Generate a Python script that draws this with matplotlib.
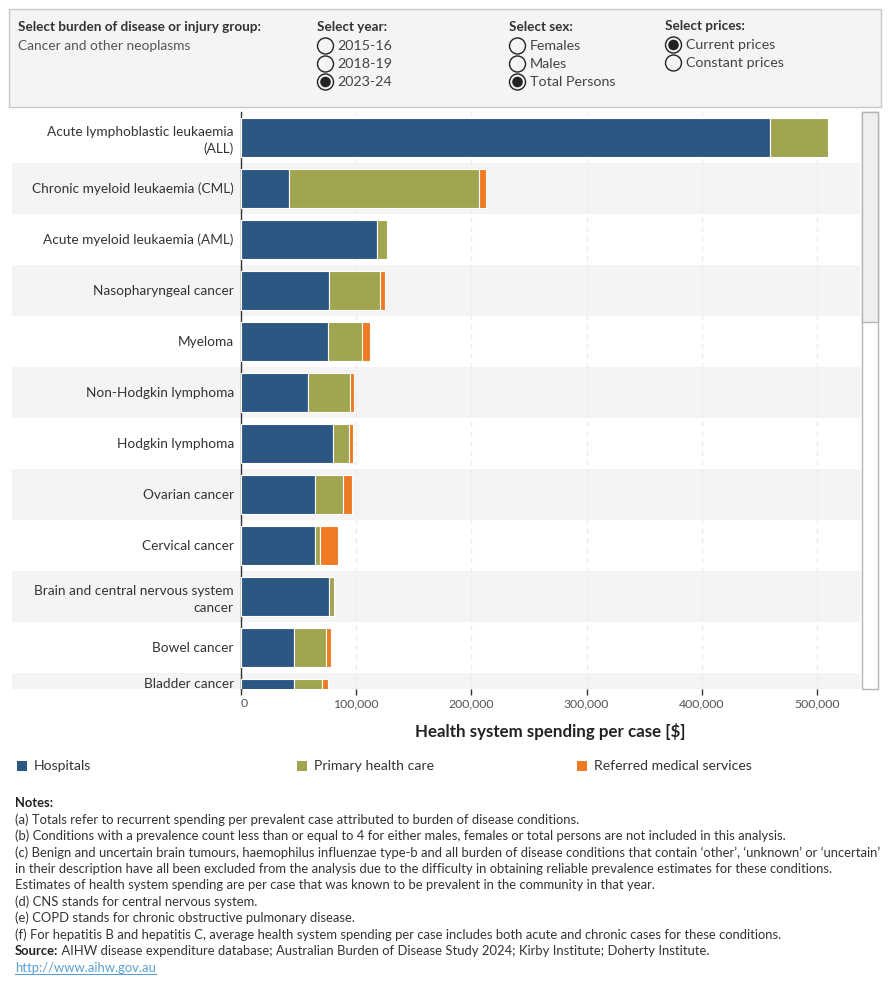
import matplotlib
matplotlib.use("Agg")
import matplotlib.pyplot as plt
from matplotlib.patches import Rectangle, Circle
from matplotlib.transforms import blended_transform_factory

plt.rcParams['font.family'] = ['Lato', 'DejaVu Sans']

# ---------------- data ----------------
categories = [
    "Acute lymphoblastic leukaemia\n(ALL)",
    "Chronic myeloid leukaemia (CML)",
    "Acute myeloid leukaemia (AML)",
    "Nasopharyngeal cancer",
    "Myeloma",
    "Non-Hodgkin lymphoma",
    "Hodgkin lymphoma",
    "Ovarian cancer",
    "Cervical cancer",
    "Brain and central nervous system\ncancer",
    "Bowel cancer",
    "Bladder cancer",
]
hospitals = [459000, 42000, 118000, 76500, 75800, 58700, 80100, 64500, 64500, 76500, 46300, 46300]
primary = [50300, 165000, 8800, 44100, 29500, 36000, 13900, 24000, 4400, 4700, 28000, 24700]
referred = [0, 5500, 0, 4400, 6900, 3700, 3300, 8000, 15600, 0, 4000, 4800]

series_names = ["Hospitals", "Primary health care", "Referred medical services"]
series_colors = ["#2c5783", "#a1a54f", "#ef7a24"]

x_ticks = [0, 100000, 200000, 300000, 400000, 500000]
x_max = 537000
x_title = "Health system spending per case [$]"

group_title = "Select burden of disease or injury group:"
group_value = "Cancer and other neoplasms"
year_title = "Select year:"
years = ["2015-16", "2018-19", "2023-24"]
year_sel = "2023-24"
sex_title = "Select sex:"
sexes = ["Females", "Males", "Total Persons"]
sex_sel = "Total Persons"
price_title = "Select prices:"
prices = ["Current prices", "Constant prices"]
price_sel = "Current prices"

notes = [
    "(a) Totals refer to recurrent spending per prevalent case attributed to burden of disease conditions.",
    "(b) Conditions with a prevalence count less than or equal to 4 for either males, females or total persons are not included in this analysis.",
    "(c) Benign and uncertain brain tumours, haemophilus influenzae type-b and all burden of disease conditions that contain \u2018other\u2019, \u2018unknown\u2019 or \u2018uncertain\u2019",
    "in their description have all been excluded from the analysis due to the difficulty in obtaining reliable prevalence estimates for these conditions.",
    "Estimates of health system spending are per case that was known to be prevalent in the community in that year.",
    "(d) CNS stands for central nervous system.",
    "(e) COPD stands for chronic obstructive pulmonary disease.",
    "(f) For hepatitis B and hepatitis C, average health system spending per case includes both acute and chronic cases for these conditions.",
]
source_label = "Source:"
source_text = " AIHW disease expenditure database; Australian Burden of Disease Study 2024; Kirby Institute; Doherty Institute."
link_text = "http://www.aihw.gov.au"

# ---------------- layout ----------------
W, H = 890, 1000
fig = plt.figure(figsize=(W / 100, H / 100), dpi=100)
fig.patch.set_facecolor("white")

bg = fig.add_axes([0, 0, 1, 1])
bg.set_xlim(0, W)
bg.set_ylim(H, 0)
bg.axis("off")
bg.set_zorder(0)

TXT = "#333333"
NOTE_FS = 9.35

# top filter panel
bg.add_patch(Rectangle((8.5, 8.5), 872, 98.5, facecolor="#f4f4f4", edgecolor="#c8c8c8", lw=1))
bg.text(18, 27, group_title, fontsize=9.75, fontweight="bold", color=TXT, va="center", ha="left")
bg.text(18, 46, group_value, fontsize=9.9, color="#555555", va="center", ha="left")


def radio_group(x, title, options, selected, y0=27, ys=None):
    bg.text(x, y0, title, fontsize=9.75, fontweight="bold", color=TXT, va="center", ha="left")
    for opt, y in zip(options, ys):
        cx = x + 8.5
        bg.add_patch(Circle((cx, y), 8, facecolor="none", edgecolor="#222222", lw=1.0))
        if opt == selected:
            bg.add_patch(Circle((cx, y), 5.3, facecolor="#222222", edgecolor="none"))
        bg.text(cx + 12, y, opt, fontsize=10.3, color="#444444", va="center", ha="left")


radio_group(317, year_title, years, year_sel, ys=[46, 64, 82])
radio_group(509, sex_title, sexes, sex_sel, ys=[46, 64, 82])
radio_group(665, price_title, prices, price_sel, y0=26, ys=[45, 63])

# main axes
ax_left, ax_right, ax_top, ax_bottom = 240.5, 860, 111.7, 688.5
row_px = 51.0
ax = fig.add_axes([ax_left / W, 1 - ax_bottom / H, (ax_right - ax_left) / W, (ax_bottom - ax_top) / H])
ax.set_zorder(1)
ax.set_facecolor("none")

n = len(categories)
ypos = list(range(n))
y_bottom = -0.5 + (ax_bottom - ax_top) / row_px
ax.set_xlim(0, x_max)
ax.set_ylim(y_bottom, -0.5)

# alternating row bands (extend under labels)
blend = blended_transform_factory(fig.transFigure, ax.transData)
for i in ypos:
    if i % 2 == 1:
        top = i - 0.5
        bot = min(i + 0.5, y_bottom)
        ax.add_patch(Rectangle((12 / W, top), (860 - 12) / W, bot - top, transform=blend,
                               facecolor="#f4f4f4", edgecolor="none", clip_on=False, zorder=0.1))

# stacked bars
left = [0] * n
for vals, name, col in zip([hospitals, primary, referred], series_names, series_colors):
    idx = [i for i in ypos if vals[i] > 0]
    ax.barh([ypos[i] for i in idx], [vals[i] for i in idx], left=[left[i] for i in idx],
            height=0.76, color=col, edgecolor="white", linewidth=0.8, zorder=3, label=name)
    left = [l + v for l, v in zip(left, vals)]

# y labels
tick_pos = []
for i in ypos:
    if i + 0.5 <= y_bottom:
        tick_pos.append(i)
    else:
        tick_pos.append(((i - 0.5) + y_bottom) / 2 + 0.05)
ax.set_yticks(tick_pos)
ax.set_yticklabels(categories)
for lbl in ax.get_yticklabels():
    lbl.set_multialignment("right")
    lbl.set_linespacing(1.45)
ax.tick_params(axis="y", length=0, pad=4.8, labelsize=9.8, labelcolor=TXT)

# x axis
ax.set_xticks(x_ticks)
ax.set_xticklabels([f"{v:,}" for v in x_ticks])
ax.get_xticklabels()[0].set_horizontalalignment("left")
ax.tick_params(axis="x", length=4, width=1, color="#333333", labelsize=8.8, labelcolor="#555555", pad=3)
ax.grid(axis="x", color="#ededed", linestyle=(0, (4, 3)), linewidth=1)
ax.set_axisbelow(True)
for s in ["top", "right", "bottom"]:
    ax.spines[s].set_visible(False)
ax.spines["left"].set_color("#333333")
ax.spines["left"].set_linewidth(1)
ax.set_xlabel(x_title, fontsize=12.2, fontweight="bold", color="#222222", labelpad=10)

# scrollbar
bg.add_patch(Rectangle((861.5, 112), 16.5, 576.5, facecolor="white", edgecolor="#b4b4b4", lw=1))
bg.add_patch(Rectangle((861.5, 112), 16.5, 210, facecolor="#efefef", edgecolor="#b4b4b4", lw=1))

# legend
for x0, name, col in zip([17, 297, 577], series_names, series_colors):
    bg.add_patch(Rectangle((x0, 761), 10, 10, facecolor=col, edgecolor="none"))
    bg.text(x0 + 17, 766.5, name, fontsize=10.1, color=TXT, va="center", ha="left")

# notes
line_h = 16.45
y = 803
bg.text(15, y, "Notes:", fontsize=NOTE_FS, fontweight="bold", color="#222222", va="center", ha="left")
for k, line in enumerate(notes):
    bg.text(15, y + line_h * (k + 1), line, fontsize=NOTE_FS, color=TXT, va="center", ha="left")
ys = y + line_h * (len(notes) + 1)
t = bg.text(15, ys, source_label, fontsize=NOTE_FS, fontweight="bold", color="#222222", va="center", ha="left")
fig.canvas.draw()
r = fig.canvas.get_renderer()
bb = t.get_window_extent(renderer=r)
x_end = bb.x1  # pixels from left (dpi 100 => 1 unit per pixel)
bg.text(x_end, ys, source_text, fontsize=NOTE_FS, color=TXT, va="center", ha="left")
yl = ys + line_h
tl = bg.text(15, yl, link_text, fontsize=NOTE_FS, color="#5b9fd3", va="center", ha="left")
fig.canvas.draw()
bbl = tl.get_window_extent(renderer=r)
bg.plot([15, 15 + bbl.width], [yl + 6.5, yl + 6.5], color="#5b9fd3", lw=0.8)

fig.savefig("out.png", dpi=100, facecolor="white")
